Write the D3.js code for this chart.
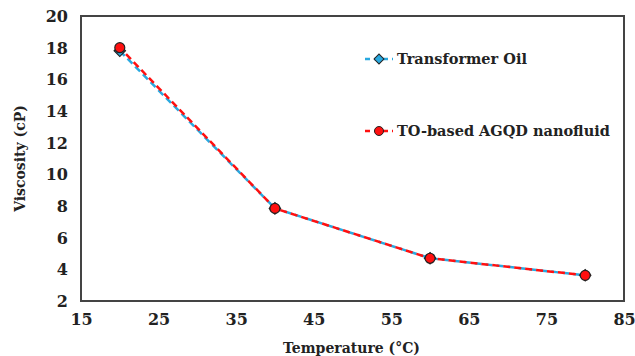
<!DOCTYPE html>
<html>
<head>
<meta charset="utf-8">
<script src="https://cdn.jsdelivr.net/npm/d3@7"></script>
<style>
  body { margin: 0; background: #fff; }
  text { font-family: "DejaVu Serif", "Liberation Serif", serif; font-weight: bold; fill: #222; }
</style>
</head>
<body>
<svg id="chart" width="635" height="356"></svg>
<script>
// temperatures (°C)
var temps = [20, 40, 60, 80];
// viscosity values (cP)
var oilValues = [17.8, 7.85, 4.7, 3.62];
var agqdValues = [18.0, 7.85, 4.7, 3.62];
var xTicks = [15, 25, 35, 45, 55, 65, 75, 85];
var yTicks = [2, 4, 6, 8, 10, 12, 14, 16, 18, 20];
var seriesNames = ['Transformer Oil', 'TO-based AGQD nanofluid'];

var svg = d3.select('#chart');
var margin = {left: 81, top: 16, right: 11, bottom: 55};
var width = 635 - margin.left - margin.right,
    height = 356 - margin.top - margin.bottom;

var x = d3.scaleLinear().domain([15, 85]).range([0, width]);
var y = d3.scaleLinear().domain([2, 20]).range([height, 0]);

var g = svg.append('g').attr('transform', 'translate(' + margin.left + ',' + margin.top + ')');

// frame
g.append('rect')
    .attr('x', 0).attr('y', 0)
    .attr('width', width).attr('height', height)
    .attr('fill', 'none')
    .attr('stroke', '#444')
    .attr('stroke-width', 2);

// axes (labels only, frame drawn above)
var xAxis = g.append('g')
    .attr('transform', 'translate(0,' + height + ')')
    .call(d3.axisBottom(x).tickValues(xTicks).tickSize(0).tickPadding(13));
xAxis.select('.domain').remove();
xAxis.selectAll('text').style('font-size', '16px').attr('fill', '#222');

var yAxis = g.append('g')
    .call(d3.axisLeft(y).tickValues(yTicks).tickSize(0).tickPadding(13));
yAxis.select('.domain').remove();
yAxis.selectAll('text').style('font-size', '16px').attr('fill', '#222').attr('dy', '0.35em');

// axis titles
svg.append('text')
    .attr('x', margin.left + width / 2 - 1)
    .attr('y', 353)
    .attr('text-anchor', 'middle')
    .style('font-size', '14px')
    .text('Temperature (°C)');

svg.append('text')
    .attr('transform', 'translate(25,' + (margin.top + height / 2) + ') rotate(-90)')
    .attr('text-anchor', 'middle')
    .style('font-size', '14px')
    .text('Viscosity (cP)');

var line = d3.line()
    .x(function (d) { return x(d[0]); })
    .y(function (d) { return y(d[1]); });

var oilData = temps.map(function (t, i) { return [t, oilValues[i]]; });
var agqdData = temps.map(function (t, i) { return [t, agqdValues[i]]; });

var blue = '#29a9e0', red = '#ff1010';

g.append('path')
    .datum(oilData)
    .attr('d', line)
    .attr('fill', 'none')
    .attr('stroke', blue)
    .attr('stroke-width', 2.5)
    .attr('stroke-dasharray', '7,4');

g.selectAll('.oil')
    .data(oilData).enter()
    .append('path')
    .attr('class', 'oil')
    .attr('transform', function (d) { return 'translate(' + x(d[0]) + ',' + y(d[1]) + ') rotate(45)'; })
    .attr('d', 'M-4,-4H4V4H-4Z')
    .attr('fill', blue)
    .attr('stroke', '#222')
    .attr('stroke-width', 1.2);

g.append('path')
    .datum(agqdData)
    .attr('d', line)
    .attr('fill', 'none')
    .attr('stroke', red)
    .attr('stroke-width', 2.5)
    .attr('stroke-dasharray', '7,4')
    .attr('stroke-dashoffset', 2);

g.selectAll('.agqd')
    .data(agqdData).enter()
    .append('circle')
    .attr('class', 'agqd')
    .attr('cx', function (d) { return x(d[0]); })
    .attr('cy', function (d) { return y(d[1]); })
    .attr('r', 5)
    .attr('fill', red)
    .attr('stroke', '#222')
    .attr('stroke-width', 1.2);

// legend
var legend = svg.append('g');
var legY = [59, 131];
var legColors = [blue, red];
seriesNames.forEach(function (name, i) {
    var lg = legend.append('g').attr('transform', 'translate(365,' + legY[i] + ')');
    lg.append('line')
        .attr('x1', 0).attr('x2', 28)
        .attr('stroke', legColors[i])
        .attr('stroke-width', 2.5)
        .attr('stroke-dasharray', '5,4');
    if (i === 0) {
        lg.append('path')
            .attr('transform', 'translate(14,0) rotate(45)')
            .attr('d', 'M-3.5,-3.5H3.5V3.5H-3.5Z')
            .attr('fill', blue).attr('stroke', '#222').attr('stroke-width', 1);
    } else {
        lg.append('circle')
            .attr('cx', 14).attr('r', 4.5)
            .attr('fill', red).attr('stroke', '#222').attr('stroke-width', 1);
    }
    lg.append('text')
        .attr('x', 32).attr('dy', '0.35em')
        .style('font-size', '14.5px')
        .text(name);
});
</script>
</body>
</html>
